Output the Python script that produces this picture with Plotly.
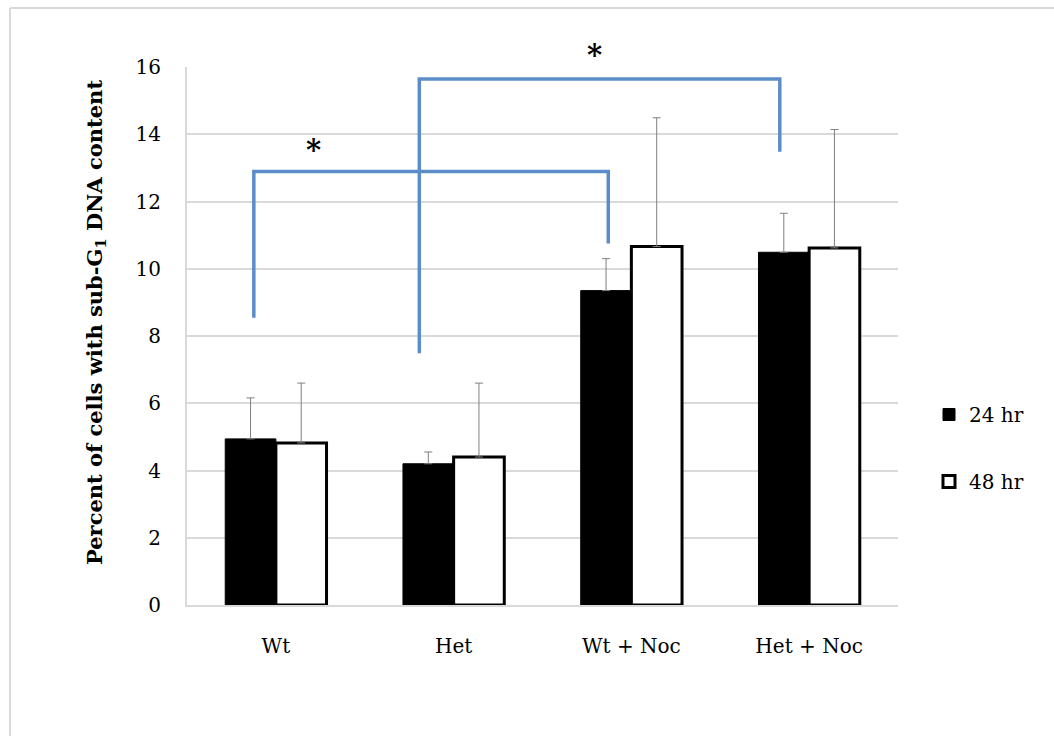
import plotly.graph_objects as go

categories = ["Wt", "Het", "Wt + Noc", "Het + Noc"]
series_names = ["24 hr", "48 hr"]
values_24 = [4.94, 4.20, 9.35, 10.49]
values_48 = [4.82, 4.40, 10.66, 10.62]
err_24 = [1.22, 0.35, 0.95, 1.16]
err_48 = [1.78, 2.20, 3.83, 3.52]
y_ticks = [0, 2, 4, 6, 8, 10, 12, 14, 16]

# significance brackets: (x_left, y_left_bottom, y_top, x_right, y_right_bottom)
brackets = [
    (-0.124, 8.54, 12.89, 1.87, 10.75),
    (0.807, 7.49, 15.64, 2.835, 13.48),
]
# asterisk positions: x in category units, y in paper units
star_pos = [(0.21, (605 - 150) / 538), (1.79, (605 - 55) / 538)]

FONT = "DejaVu Serif"

fig = go.Figure()
fig.add_trace(go.Bar(
    x=categories, y=values_24, name=series_names[0], legendgroup="a",
    marker=dict(color="black", line=dict(color="black", width=1)),
    error_y=dict(type="data", array=err_24, symmetric=False, arrayminus=[0] * 4,
                 color="#7f7f7f", thickness=1, width=4),
))
fig.add_trace(go.Bar(
    x=categories, y=values_48, name=series_names[1], legendgroup="b",
    marker=dict(color="white", line=dict(color="black", width=3)),
    error_y=dict(type="data", array=err_48, symmetric=False, arrayminus=[0] * 4,
                 color="#7f7f7f", thickness=1, width=4),
))

shapes = []
for (xl, yl, yt, xr, yr) in brackets:
    shapes.append(dict(type="path", xref="x", yref="y",
                       path=f"M {xl},{yl} L {xl},{yt} L {xr},{yt} L {xr},{yr}",
                       line=dict(color="#5b8dc9", width=3.5), layer="above"))

# outer light frame (top and left edges)
shapes.append(dict(type="line", xref="paper", yref="paper",
                   x0=(10 - 187) / 711, x1=(1054 - 187) / 711,
                   y0=(605 - 8) / 538, y1=(605 - 8) / 538,
                   line=dict(color="#d9d9d9", width=2)))
shapes.append(dict(type="line", xref="paper", yref="paper",
                   x0=(10 - 187) / 711, x1=(10 - 187) / 711,
                   y0=(605 - 8) / 538, y1=(605 - 740) / 538,
                   line=dict(color="#d9d9d9", width=2)))

annotations = [dict(x=sx, y=sy, xref="x", yref="paper", text="<b>*</b>", showarrow=False,
                    xanchor="center", yanchor="middle",
                    font=dict(family=FONT, size=29, color="black"))
               for sx, sy in star_pos]
annotations.append(dict(
    x=(95 - 187) / 711, y=(605 - 323) / 538, xref="paper", yref="paper", textangle=-90,
    xanchor="center", yanchor="middle",
    text="<b>Percent of cells with sub-G<sub>1</sub> DNA content</b>",
    showarrow=False, font=dict(family=FONT, size=21, color="black")))

fig.update_layout(
    width=1054, height=736,
    margin=dict(l=187, r=156, t=67, b=131),
    paper_bgcolor="white", plot_bgcolor="white",
    barmode="group", bargap=0.43, bargroupgap=0,
    font=dict(family=FONT, size=20, color="black"),
    shapes=shapes, annotations=annotations,
    legend=dict(x=(929 - 187) / 711, xanchor="left", y=(605 - 448) / 538, yanchor="middle",
                traceorder="grouped", tracegroupgap=38,
                font=dict(family=FONT, size=20, color="black")),
    xaxis=dict(showline=True, linecolor="#d9d9d9", linewidth=2, ticks="",
               ticklabelstandoff=22, range=[-0.5, 3.5]),
    yaxis=dict(range=[0, 16], tickvals=y_ticks, showgrid=True, gridcolor="#d9d9d9",
               gridwidth=1.5, showline=True, linecolor="#d9d9d9", linewidth=2,
               ticks="", ticklabelstandoff=20, zeroline=False),
)

fig.write_html("out.html")
